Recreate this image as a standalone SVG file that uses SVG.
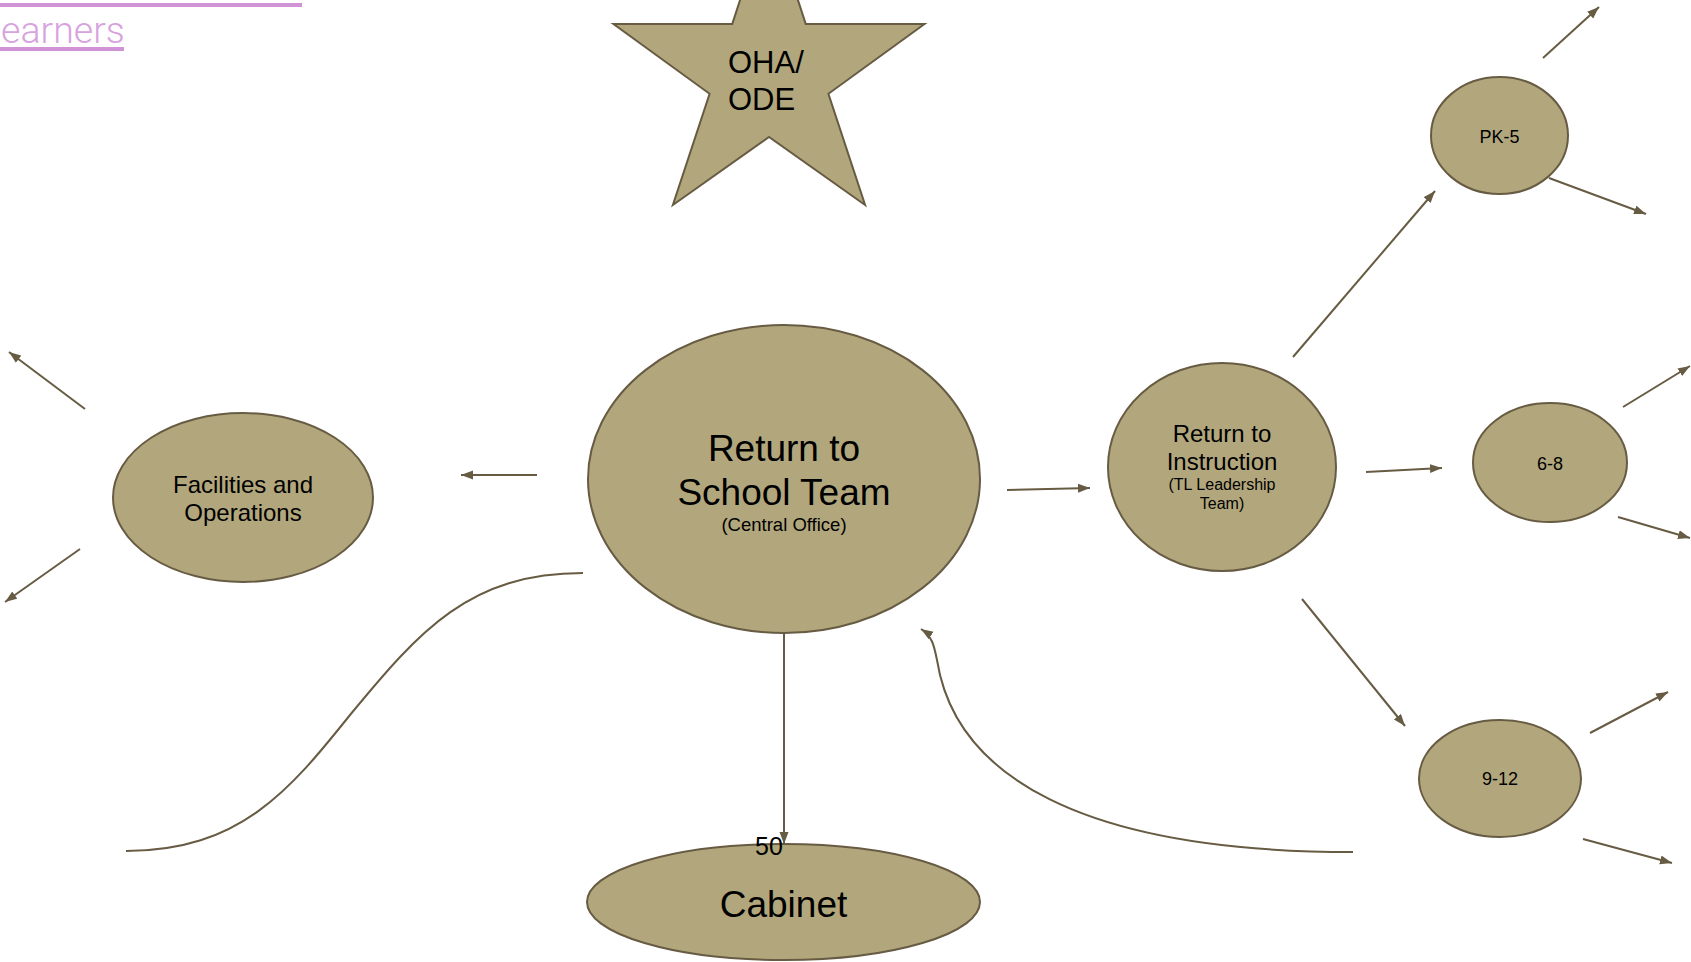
<svg xmlns="http://www.w3.org/2000/svg" width="1691" height="962" viewBox="0 0 1691 962">
<defs>
<style>
.node{fill:#b2a77c;stroke:#675b43;stroke-width:2}
.t{font-family:"Liberation Sans",Arial,sans-serif;fill:#000;text-anchor:middle}
.c{fill:none;stroke:#675b43;stroke-width:2}
.link{font-family:Roboto,sans-serif;font-weight:300;fill:#d7a2de}
</style>
<marker id="ah" markerUnits="userSpaceOnUse" markerWidth="14" markerHeight="10" refX="12" refY="4.5" orient="auto">
<path d="M0,0 L12,4.5 L0,9 z" fill="#675b43"/>
</marker>
</defs>
<rect width="1691" height="962" fill="#fff"/>
<g id="link">
<rect x="0" y="3" width="302" height="4" fill="#cf93d6"/>
<text class="link" x="1" y="43" font-size="37.5">earners</text>
<rect x="0" y="47" width="124" height="4" fill="#cf93d6"/>
</g>
<g id="connectors">
<line class="c" x1="537" y1="475" x2="461" y2="475" marker-end="url(#ah)"/>
<line class="c" x1="1007" y1="490" x2="1090" y2="488" marker-end="url(#ah)"/>
<line class="c" x1="1293" y1="357" x2="1435" y2="191" marker-end="url(#ah)"/>
<line class="c" x1="1366" y1="472" x2="1442" y2="468" marker-end="url(#ah)"/>
<line class="c" x1="1302" y1="599" x2="1405" y2="726" marker-end="url(#ah)"/>
<line class="c" x1="784" y1="634" x2="784" y2="844" marker-end="url(#ah)"/>
<line class="c" x1="1543" y1="58" x2="1599" y2="7" marker-end="url(#ah)"/>
<line class="c" x1="1549" y1="178" x2="1646" y2="214" marker-end="url(#ah)"/>
<line class="c" x1="1623" y1="407" x2="1690" y2="366" marker-end="url(#ah)"/>
<line class="c" x1="1618" y1="517" x2="1690" y2="538" marker-end="url(#ah)"/>
<line class="c" x1="1590" y1="733" x2="1668" y2="692" marker-end="url(#ah)"/>
<line class="c" x1="1583" y1="839" x2="1672" y2="863" marker-end="url(#ah)"/>
<line class="c" x1="85" y1="409" x2="9" y2="352" marker-end="url(#ah)"/>
<line class="c" x1="80" y1="549" x2="5" y2="602" marker-end="url(#ah)"/>
<path class="c" d="M1353,852 C1080,852 955,775 937,660 C934,645 932,636 921,629" marker-end="url(#ah)"/>
<path class="c" d="M583,573 C470,573 420,630 350,715 C290,790 240,851 126,851"/>
</g>
<g id="star">
<polygon class="node" points="769,-89 805.7,23.9 924.5,24 828.4,93.8 865.1,205 769,137 672.9,205 709.6,93.8 613.5,24 732.3,23.9"/>
<text class="t" x="728" y="73" font-size="31" style="text-anchor:start">OHA/</text>
<text class="t" x="728" y="110" font-size="31" style="text-anchor:start">ODE</text>
</g>
<g id="central">
<ellipse class="node" cx="784" cy="479" rx="196" ry="154"/>
<text class="t" x="784" y="461" font-size="37">Return to</text>
<text class="t" x="784" y="505" font-size="37">School Team</text>
<text class="t" x="784" y="531" font-size="18.5">(Central Office)</text>
</g>
<g id="facilities">
<ellipse class="node" cx="243" cy="497.5" rx="130" ry="84.5"/>
<text class="t" x="243" y="493" font-size="24">Facilities and</text>
<text class="t" x="243" y="521" font-size="24">Operations</text>
</g>
<g id="rti">
<ellipse class="node" cx="1222" cy="467" rx="114" ry="104"/>
<text class="t" x="1222" y="442" font-size="24">Return to</text>
<text class="t" x="1222" y="470" font-size="24">Instruction</text>
<text class="t" x="1222" y="490" font-size="16">(TL Leadership</text>
<text class="t" x="1222" y="509" font-size="16">Team)</text>
</g>
<g id="pk5">
<ellipse class="node" cx="1499.5" cy="135.5" rx="68.5" ry="58.5"/>
<text class="t" x="1499.5" y="143" font-size="18">PK-5</text>
</g>
<g id="g68">
<ellipse class="node" cx="1550" cy="462.5" rx="77" ry="59.5"/>
<text class="t" x="1550" y="470" font-size="18">6-8</text>
</g>
<g id="g912">
<ellipse class="node" cx="1500" cy="778.5" rx="81" ry="58.5"/>
<text class="t" x="1500" y="785" font-size="18">9-12</text>
</g>
<g id="cabinet">
<ellipse class="node" cx="783.5" cy="902" rx="196.5" ry="58"/>
<text class="t" x="783.5" y="917" font-size="37">Cabinet</text>
<text class="t" x="755" y="855" font-size="25" style="text-anchor:start">50</text>
</g>
</svg>
